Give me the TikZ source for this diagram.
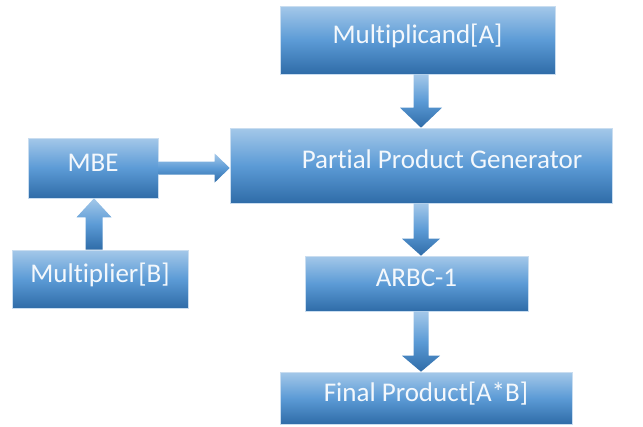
\documentclass[tikz,border=0pt]{standalone}
\usepackage{fontspec}
\setmainfont[Ligatures=NoCommon]{Carlito}
\usetikzlibrary{calc}
\definecolor{btop}{HTML}{A4C8E9}
\definecolor{bmid}{HTML}{5C9BD6}
\definecolor{bbot}{HTML}{2F6CA8}
\definecolor{bedge}{HTML}{C9DDF0}
\definecolor{btext}{HTML}{F4F8FC}
\tikzset{
  box/.style={rectangle, draw=bedge, line width=0.6pt, top color=btop, bottom color=bbot, middle color=bmid,
    text=btext, font=\fontsize{27}{31}\selectfont, inner sep=0pt, text height=18pt, text depth=12pt},
  arr/.style={top color=btop, bottom color=bbot, middle color=bmid}
}
% vertical block arrow: #1 start, #2 end, #3 x centre, #4 shaft half, #5 head half, #6 head length
\newcommand\blkvert[6]{%
  \path[arr] let \p1=(#1), \p2=(#2), \n1={ifthenelse(\y2<\y1,1,-1)} in
    (#3-#4, \y1) -- (#3-#4, \y2+\n1*#6) -- (#3-#5, \y2+\n1*#6) -- (#3, \y2)
    -- (#3+#5, \y2+\n1*#6) -- (#3+#4, \y2+\n1*#6) -- (#3+#4, \y1) -- cycle;}
\begin{document}
\begin{tikzpicture}[x=1pt,y=-1pt]
\useasboundingbox (0,0) rectangle (643,426);
\node[box, minimum width=275pt, minimum height=68pt] (m) at (417.5,40) {Multiplicand[A]};
\node[box, minimum width=382pt, minimum height=75pt] (p) at (421,165.5) {\hspace*{42pt}Partial Product Generator};
\node[box, minimum width=130pt, minimum height=60pt] (mbe) at (93,168) {MBE};
\node[box, minimum width=176pt, minimum height=58pt] (mult) at (100,279) {Multiplier[B]};
\node[box, minimum width=223pt, minimum height=55pt] (arbc) at (416.5,283.5) {ARBC-1};
\node[box, minimum width=292pt, minimum height=52pt] (fin) at (426,398) {Final Product[A*B]};
% arrows
\blkvert{m.south}{p.north}{421pt}{7.5pt}{21pt}{20pt}
\blkvert{p.south}{arbc.north}{421pt}{7.5pt}{19pt}{17pt}
\blkvert{arbc.south}{fin.north}{421pt}{7.5pt}{19pt}{16pt}
\blkvert{mult.north}{mbe.south}{94pt}{8.5pt}{17.5pt}{19pt}
\path[arr] let \p1=(mbe.east), \p2=(p.west) in
  (\x1, \y1+6.5pt) -- (\x2-15pt, \y1+6.5pt) -- (\x2-15pt, \y1+14.5pt) -- (\x2, \y1)
  -- (\x2-15pt, \y1-14.5pt) -- (\x2-15pt, \y1-6.5pt) -- (\x1, \y1-6.5pt) -- cycle;
\end{tikzpicture}
\end{document}
